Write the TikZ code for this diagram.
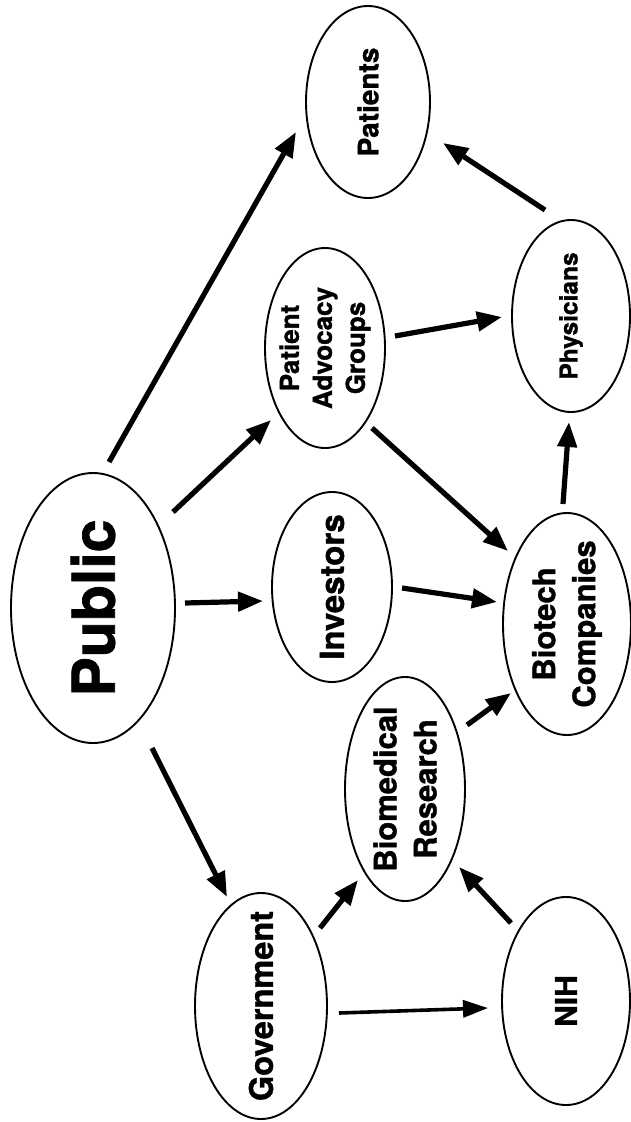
\documentclass[tikz,border=0pt]{standalone}
\usepackage{fontspec}
\setmainfont{TeX Gyre Heros}[BoldFeatures={FakeBold=1.2}]
\usetikzlibrary{arrows.meta,calc,shapes.geometric}
\tikzset{
  ell/.style={draw, ellipse, line width=1.9pt, inner sep=0pt},
  lbl/.style={rotate=90, align=center, inner sep=0pt},
  arr/.style={line width=5.2pt, -{Triangle[length=25pt,width=19pt]}},
  thinarr/.style={line width=3.6pt, -{Triangle[length=25pt,width=17pt]}}
}
\begin{document}
\begin{tikzpicture}[x=1pt,y=-1pt]
\useasboundingbox (0,0) rectangle (631,1122);
\fill[white] (0,0) rectangle (631,1122);
% ellipses
\node[ell, minimum width=164pt, minimum height=270pt] (pub) at (93,608) {};
\node[ell, minimum width=132pt, minimum height=226pt] (gov) at (261,1006) {};
\node[ell, minimum width=128pt, minimum height=208pt] (nih) at (566,1001) {};
\node[ell, minimum width=120pt, minimum height=224pt] (bio) at (405,789) {};
\node[ell, minimum width=120pt, minimum height=190pt] (inv) at (332,587) {};
\node[ell, minimum width=128pt, minimum height=222pt] (btc) at (567,624) {};
\node[ell, minimum width=120pt, minimum height=200pt] (pag) at (325,348) {};
\node[ell, minimum width=118pt, minimum height=192pt] (phy) at (571,316) {};
\node[ell, minimum width=124pt, minimum height=192pt] (pat) at (368,102) {};
% labels
\node[lbl, font=\fontsize{59}{62}\selectfont\bfseries] (pub-t) at (pub) {Public};
\node[lbl, font=\fontsize{32.5}{36}\selectfont\bfseries] (gov-t) at (gov) {Government};
\node[lbl, font=\fontsize{30}{34}\selectfont\bfseries] (nih-t) at (nih) {NIH};
\node[lbl, font=\fontsize{31}{40}\selectfont\bfseries] (bio-t) at (bio) {Biomedical\\Research};
\node[lbl, font=\fontsize{33}{36}\selectfont\bfseries] (inv-t) at (inv) {Investors};
\node[lbl, font=\fontsize{31}{40}\selectfont\bfseries] (btc-t) at (btc) {Biotech\\Companies};
\node[lbl, font=\fontsize{26}{33}\selectfont\bfseries] (pag-t) at (pag) {Patient\\Advocacy\\Groups};
\node[lbl, font=\fontsize{24.5}{28}\selectfont\bfseries] (phy-t) at (phy) {Physicians};
\node[lbl, font=\fontsize{28}{30}\selectfont\bfseries] (pat-t) at (pat) {Patients};
% connectors
\draw[arr] ($(pub)+(16,-146)$) -- ($(pat)+(-72,30)$);
\draw[arr] ($(pub)+(80,-96)$) -- ($(pag)+(-54,72)$);
\draw[arr] ($(pub)+(92,-5)$) -- ($(inv)+(-69,14)$);
\draw[arr] ($(pub)+(59,140)$) -- ($(gov)+(-34,-109)$);
\draw[arr] ($(gov)+(59,-78)$) -- ($(bio)+(-47,91)$);
\draw[thinarr] ($(gov)+(78,7)$) -- ($(nih)+(-78,7)$);
\draw[arr] ($(nih)+(-55,-78)$) -- ($(bio)+(54,78)$);
\draw[arr] ($(bio)+(62,-64)$) -- ($(btc)+(-56,69)$);
\draw[arr] ($(inv)+(70,1)$) -- ($(btc)+(-70,-22)$);
\draw[arr] ($(pag)+(47,80)$) -- ($(btc)+(-59,-73)$);
\draw[arr] ($(pag)+(70,-12)$) -- ($(phy)+(-69,1)$);
\draw[arr] ($(btc)+(-4,-120)$) -- ($(phy)+(-2,106)$);
\draw[arr] ($(phy)+(-26,-106)$) -- ($(pat)+(75,41)$);
\end{tikzpicture}
\end{document}
